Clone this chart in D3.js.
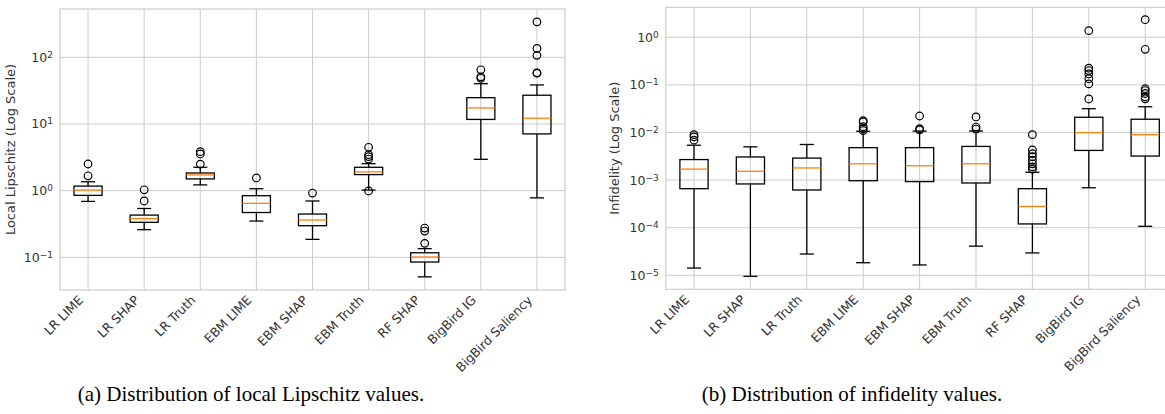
<!DOCTYPE html>
<html>
<head>
<meta charset="utf-8">
<script src="https://cdn.jsdelivr.net/npm/d3@7"></script>
<style>
  body { margin: 0; background: #fff; }
  svg { display: block; }
  .tick-label { font-family: "DejaVu Sans", sans-serif; font-size: 12.5px; fill: #333; }
  .axis-title { font-family: "DejaVu Sans", sans-serif; font-size: 13px; fill: #333; }
  .caption { font-family: "Liberation Serif", "Times New Roman", serif; font-size: 21px; fill: #000; }
</style>
</head>
<body>
<script>
// categories shared by both panels
const categories = ['LR LIME', 'LR SHAP', 'LR Truth', 'EBM LIME', 'EBM SHAP', 'EBM Truth', 'RF SHAP', 'BigBird IG', 'BigBird Saliency'];

// (a) local Lipschitz: whisker low, q1, median, q3, whisker high
const lipLow    = [0.69, 0.26, 1.22, 0.35, 0.186, 1.02, 0.051, 2.95, 0.78];
const lipQ1     = [0.85, 0.335, 1.50, 0.47, 0.298, 1.74, 0.085, 11.7, 7.1];
const lipMedian = [1.02, 0.38, 1.72, 0.645, 0.363, 1.91, 0.101, 17.4, 12.2];
const lipQ3     = [1.17, 0.43, 1.84, 0.84, 0.446, 2.24, 0.117, 24.8, 27];
const lipHigh   = [1.36, 0.54, 2.24, 1.07, 0.70, 2.54, 0.135, 40.2, 38.5];
const lipOutliers = [
  [1.67, 2.51],
  [0.70, 1.03],
  [2.5, 3.55, 3.84],
  [1.55],
  [0.92],
  [0.99, 2.98, 3.24, 3.47, 4.47],
  [0.162, 0.248, 0.275],
  [48.4, 51, 65],
  [58, 58.5, 107, 136, 340]
];

// (b) infidelity
const infLow    = [1.42e-5, 9.5e-6, 2.8e-5, 1.84e-5, 1.65e-5, 4.1e-5, 2.95e-5, 6.9e-4, 1.07e-4];
const infQ1     = [6.6e-4, 8.3e-4, 6.2e-4, 9.7e-4, 9.3e-4, 8.7e-4, 1.2e-4, 4.2e-3, 3.2e-3];
const infMedian = [1.7e-3, 1.53e-3, 1.8e-3, 2.2e-3, 2.0e-3, 2.2e-3, 2.8e-4, 9.9e-3, 9.0e-3];
const infQ3     = [2.7e-3, 3.06e-3, 2.9e-3, 4.8e-3, 4.8e-3, 5.1e-3, 6.6e-4, 2.09e-2, 1.9e-2];
const infHigh   = [5.4e-3, 5.0e-3, 5.6e-3, 1.06e-2, 1.07e-2, 1.07e-2, 1.46e-3, 3.16e-2, 3.48e-2];
const infOutliers = [
  [6.9e-3, 8.1e-3, 9.0e-3],
  [],
  [],
  [1.1e-2, 1.2e-2, 1.32e-2, 1.66e-2, 1.77e-2],
  [1.13e-2, 1.2e-2, 2.22e-2],
  [1.18e-2, 1.3e-2, 2.12e-2],
  [1.7e-3, 1.9e-3, 2.2e-3, 2.6e-3, 3.1e-3, 3.6e-3, 4.3e-3, 9.0e-3],
  [5.06e-2, 0.105, 0.135, 0.17, 0.2, 0.224, 1.38],
  [5.1e-2, 5.6e-2, 6.6e-2, 7.6e-2, 8.3e-2, 0.56, 2.34]
];

const lipTicks = [1e-1, 1e0, 1e1, 1e2];
const infTicks = [1e-5, 1e-4, 1e-3, 1e-2, 1e-1, 1e0];

const width = 1165, height = 414;
const svg = d3.select('body').append('svg')
  .attr('width', width)
  .attr('height', height);

function supLabel(sel, v) {
  const e = Math.round(Math.log10(v));
  sel.text('10');
  sel.append('tspan')
    .attr('dy', '-0.45em')
    .style('font-size', '9px')
    .text(e < 0 ? '\u2212' + (-e) : e);
}

function drawPanel(opts) {
  const { left, right, top, bottom, domain, ticks, title, caption, captionX,
          titleX, low, q1, med, q3, high, outliers } = opts;

  const g = svg.append('g');

  const x = d3.scalePoint()
    .domain(categories)
    .range([left, right])
    .padding(0.5);
  const step = x.step();

  const y = d3.scaleLog()
    .domain(domain)
    .range([bottom, top]);

  // grid
  g.selectAll('.vgrid').data(categories).enter().append('line')
    .attr('x1', d => x(d)).attr('x2', d => x(d))
    .attr('y1', top).attr('y2', bottom)
    .attr('stroke', '#cccccc').attr('stroke-width', 1);
  g.selectAll('.hgrid').data(ticks).enter().append('line')
    .attr('x1', left).attr('x2', right)
    .attr('y1', d => y(d)).attr('y2', d => y(d))
    .attr('stroke', '#cccccc').attr('stroke-width', 1);

  // frame
  g.append('rect')
    .attr('x', left).attr('y', top)
    .attr('width', right - left).attr('height', bottom - top)
    .attr('fill', 'none').attr('stroke', '#cccccc').attr('stroke-width', 1.2);

  // y tick labels
  g.selectAll('.ylab').data(ticks).enter().append('text')
    .attr('class', 'tick-label')
    .attr('x', left - 7)
    .attr('y', d => y(d) + 4.5)
    .attr('text-anchor', 'end')
    .each(function (d) { supLabel(d3.select(this), d); });

  // x tick labels
  g.selectAll('.xlab').data(categories).enter().append('text')
    .attr('class', 'tick-label')
    .attr('text-anchor', 'end')
    .attr('transform', d => `translate(${x(d) - 4},${bottom + 11}) rotate(-45)`)
    .text(d => d);

  // axis title
  g.append('text')
    .attr('class', 'axis-title')
    .attr('text-anchor', 'middle')
    .attr('transform', `translate(${titleX},${(top + bottom) / 2}) rotate(-90)`)
    .text(title);

  const boxW = step * 0.5;
  const capW = step * 0.25;
  const boxes = categories.map((c, i) => ({
    c, low: low[i], q1: q1[i], med: med[i], q3: q3[i], high: high[i], out: outliers[i]
  }));

  const bg = g.selectAll('.box').data(boxes).enter().append('g');

  // whiskers
  bg.append('line')
    .attr('x1', d => x(d.c)).attr('x2', d => x(d.c))
    .attr('y1', d => y(d.q3)).attr('y2', d => y(d.high))
    .attr('stroke', '#000').attr('stroke-width', 1.3);
  bg.append('line')
    .attr('x1', d => x(d.c)).attr('x2', d => x(d.c))
    .attr('y1', d => y(d.q1)).attr('y2', d => y(d.low))
    .attr('stroke', '#000').attr('stroke-width', 1.3);
  // caps
  bg.append('line')
    .attr('x1', d => x(d.c) - capW / 2).attr('x2', d => x(d.c) + capW / 2)
    .attr('y1', d => y(d.high)).attr('y2', d => y(d.high))
    .attr('stroke', '#000').attr('stroke-width', 1.3);
  bg.append('line')
    .attr('x1', d => x(d.c) - capW / 2).attr('x2', d => x(d.c) + capW / 2)
    .attr('y1', d => y(d.low)).attr('y2', d => y(d.low))
    .attr('stroke', '#000').attr('stroke-width', 1.3);
  // box
  bg.append('rect')
    .attr('x', d => x(d.c) - boxW / 2)
    .attr('width', boxW)
    .attr('y', d => y(d.q3))
    .attr('height', d => y(d.q1) - y(d.q3))
    .attr('fill', 'none').attr('stroke', '#000').attr('stroke-width', 1.3);
  // median
  bg.append('line')
    .attr('x1', d => x(d.c) - boxW / 2).attr('x2', d => x(d.c) + boxW / 2)
    .attr('y1', d => y(d.med)).attr('y2', d => y(d.med))
    .attr('stroke', '#ff7f0e').attr('stroke-width', 1.3);
  // fliers
  bg.selectAll('circle')
    .data(d => d.out.map(v => ({ c: d.c, v })))
    .enter().append('circle')
    .attr('cx', d => x(d.c))
    .attr('cy', d => y(d.v))
    .attr('r', 3.8)
    .attr('fill', 'none').attr('stroke', '#000').attr('stroke-width', 1.2);

  // caption
  svg.append('text')
    .attr('class', 'caption')
    .attr('x', captionX)
    .attr('y', 401)
    .attr('text-anchor', 'middle')
    .text(caption);
}

drawPanel({
  left: 60, right: 565, top: 9, bottom: 290,
  domain: [Math.pow(10, -1.49), Math.pow(10, 2.7245)],
  ticks: lipTicks,
  title: 'Local Lipschitz (Log Scale)', titleX: 15,
  caption: '(a)  Distribution of local Lipschitz values.', captionX: 251,
  low: lipLow, q1: lipQ1, med: lipMedian, q3: lipQ3, high: lipHigh, outliers: lipOutliers
});

drawPanel({
  left: 665.8, right: 1173.4, top: 7.3, bottom: 289.3,
  domain: [Math.pow(10, -5.294), Math.pow(10, 0.63)],
  ticks: infTicks,
  title: 'Infidelity (Log Scale)', titleX: 619,
  caption: '(b)  Distribution of infidelity values.', captionX: 852,
  low: infLow, q1: infQ1, med: infMedian, q3: infQ3, high: infHigh, outliers: infOutliers
});
</script>
</body>
</html>
